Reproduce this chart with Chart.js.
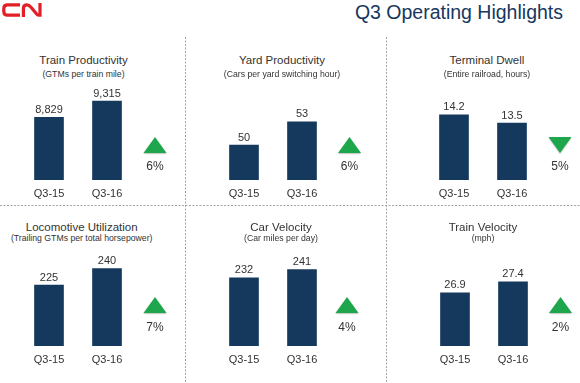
<!DOCTYPE html>
<html><head><meta charset="utf-8">
<script src="https://cdn.jsdelivr.net/npm/chart.js@4.4.1/dist/chart.umd.min.js"></script>
<style>
html,body{margin:0;padding:0;width:580px;height:383px;overflow:hidden;background:#fff;font-family:'Liberation Sans',Arial,sans-serif;}
.ptitle{position:absolute;width:220px;margin-left:-110px;text-align:center;font-size:11.5px;line-height:14px;color:#333;white-space:nowrap;}
.psub{position:absolute;width:220px;margin-left:-110px;text-align:center;font-size:8.7px;line-height:10px;color:#333;white-space:nowrap;}
#head{position:absolute;right:17px;top:3px;font-size:19.5px;line-height:19.5px;color:#17375e;white-space:nowrap;}
canvas{position:absolute;}
svg{position:absolute;left:0;top:0;}
</style></head><body>
<svg width="580" height="383" viewBox="0 0 580 383">
  <g fill="none" stroke="#e21f26" stroke-width="3.2">
    <title>CN</title>
    <path d="M20 4.8 H7.6 Q3.8 4.8 3.8 8.6 V11.4 Q3.8 15.2 7.6 15.2 H20"/>
    <path d="M23.4 17 V8.4 Q23.4 4.8 27 4.8 Q29 4.8 31 7.2 L36.2 13.6 Q37.4 15.2 38.6 15.2 H40 M40 16.8 V3"/>
  </g>
  <g stroke="#a3a3a3" stroke-width="1" stroke-dasharray="2 1.5">
    <line x1="185.5" y1="37" x2="185.5" y2="383"/>
    <line x1="386.5" y1="37" x2="386.5" y2="383"/>
    <line x1="0" y1="205.5" x2="580" y2="205.5"/>
  </g>
</svg>
<div id="head">Q3 Operating Highlights</div>
<script>
// ---- data ----
const categories = ['Q3-15', 'Q3-16'];
const panelTitles = ['Train Productivity', 'Yard Productivity', 'Terminal Dwell',
                     'Locomotive Utilization', 'Car Velocity', 'Train Velocity'];
const panelSubtitles = ['(GTMs per train mile)', '(Cars per yard switching hour)', '(Entire railroad, hours)',
                        '(Trailing GTMs per total horsepower)', '(Car miles per day)', '(mph)'];
const valuesQ315 = [8829, 50, 14.2, 225, 232, 26.9];
const valuesQ316 = [9315, 53, 13.5, 240, 241, 27.4];
const valueDecimals = [0, 0, 1, 0, 0, 1];
const changePct = ['6%', '6%', '5%', '7%', '4%', '2%'];
const changeDir = ['up', 'up', 'down', 'up', 'up', 'up'];

// ---- layout / style ----
const FONT = "'Liberation Sans', Arial, sans-serif";
const BAR = '#14395c';
const GREEN = '#1ea64c';
const TEXT = '#333333';
const axisMin = [6960, 45.5, 8.7, 169.2, 159.1, 24.49];
const axisMax = [9763, 57.6, 16.63, 255.2, 259.8, 28.76];
const firstBarCenter = [49.3, 244, 454, 49.3, 244, 454.5];
const titleCenterX = [83.5, 282, 487, 81.7, 281, 483];
const rowChartTop = [86, 252];
const rowTitleTop = [53, 219.5];
const rowSubTop = [68.5, 233];
const rowTriDy = [-35, -41];
const rowPctDy = [-10, -15];
const triDx = [19, 18.5, 19, 19, 16, 18.5];

const valueLabelPlugin = {
  id: 'valueLabels',
  afterDatasetsDraw(chart, args, opts) {
    const ctx = chart.ctx;
    const ds = chart.data.datasets[0];
    const meta = chart.getDatasetMeta(0);
    ctx.save();
    ctx.font = '11px ' + FONT;
    ctx.fillStyle = TEXT;
    ctx.textAlign = 'center';
    ctx.textBaseline = 'alphabetic';
    meta.data.forEach((bar, j) => {
      const v = ds.data[j];
      const s = v.toLocaleString('en-US', {minimumFractionDigits: opts.decimals, maximumFractionDigits: opts.decimals});
      ctx.fillText(s, bar.x, bar.y - 4.5);
    });
    ctx.restore();
  }
};

const indicatorPlugin = {
  id: 'indicator',
  afterDraw(chart, args, opts) {
    const ctx = chart.ctx;
    const area = chart.chartArea;
    const cx = area.right + opts.dx;
    const cy = area.bottom + opts.triDy;
    const w = 23, h = 16;
    ctx.save();
    ctx.fillStyle = GREEN;
    ctx.shadowColor = 'rgba(0,0,0,0.25)';
    ctx.shadowBlur = 1.5;
    ctx.shadowOffsetY = 1;
    ctx.beginPath();
    if (opts.dir === 'up') {
      ctx.moveTo(cx, cy - h / 2);
      ctx.lineTo(cx + w / 2, cy + h / 2);
      ctx.lineTo(cx - w / 2, cy + h / 2);
    } else {
      ctx.moveTo(cx - w / 2, cy - h / 2);
      ctx.lineTo(cx + w / 2, cy - h / 2);
      ctx.lineTo(cx, cy + h / 2);
    }
    ctx.closePath();
    ctx.fill();
    ctx.restore();
    ctx.save();
    ctx.font = '12px ' + FONT;
    ctx.fillStyle = TEXT;
    ctx.textAlign = 'center';
    ctx.textBaseline = 'alphabetic';
    ctx.fillText(opts.text, cx, area.bottom + opts.pctDy);
    ctx.restore();
  }
};

for (let i = 0; i < 6; i++) {
  const row = i < 3 ? 0 : 1;
  const t = document.createElement('div');
  t.className = 'ptitle';
  t.style.left = titleCenterX[i] + 'px';
  t.style.top = rowTitleTop[row] + 'px';
  t.textContent = panelTitles[i];
  document.body.appendChild(t);
  const s = document.createElement('div');
  s.className = 'psub';
  s.style.left = titleCenterX[i] + 'px';
  s.style.top = rowSubTop[row] + 'px';
  s.textContent = panelSubtitles[i];
  document.body.appendChild(s);

  const cv = document.createElement('canvas');
  cv.width = 164; cv.height = 120;
  cv.style.left = (firstBarCenter[i] - 39) + 'px';
  cv.style.top = rowChartTop[row] + 'px';
  document.body.appendChild(cv);

  new Chart(cv, {
    type: 'bar',
    data: {
      labels: categories,
      datasets: [{ data: [valuesQ315[i], valuesQ316[i]], backgroundColor: BAR, borderWidth: 0, barThickness: 29 }]
    },
    options: {
      responsive: false,
      animation: false,
      devicePixelRatio: 1,
      layout: { padding: { left: 10, right: 38, top: 0, bottom: 6 } },
      plugins: {
        legend: { display: false },
        tooltip: { enabled: false },
        valueLabels: { decimals: valueDecimals[i] },
        indicator: { dx: triDx[i], triDy: rowTriDy[row], pctDy: rowPctDy[row], dir: changeDir[i], text: changePct[i] }
      },
      scales: {
        x: {
          grid: { display: false, drawTicks: false },
          border: { display: false },
          ticks: { padding: 7, color: TEXT, font: { size: 11, family: FONT } },
          afterFit(scale) { scale.height = 20; }
        },
        y: { display: false, min: axisMin[i], max: axisMax[i] }
      }
    },
    plugins: [valueLabelPlugin, indicatorPlugin]
  });
}
</script>
</body></html>
